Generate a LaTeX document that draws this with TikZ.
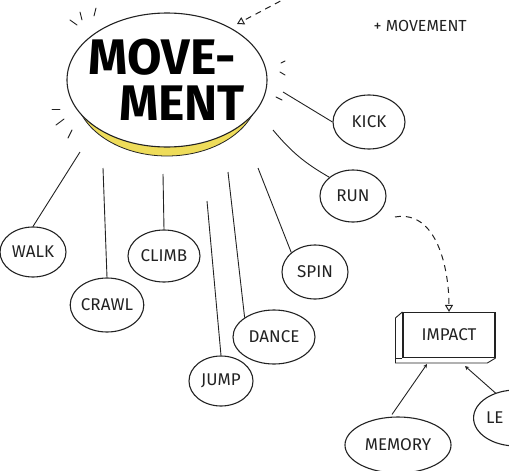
\documentclass[tikz,border=0pt]{standalone}
\usepackage{fontspec}
\setmainfont{Fira Sans}
\usetikzlibrary{arrows.meta,shapes.geometric}
\definecolor{ink}{HTML}{222222}
\definecolor{hl}{HTML}{EEDC5A}
\tikzset{
  ink/.style={draw=ink, line width=1.1pt},
  bub/.style={ink, ellipse, inner sep=0pt, font=\fontsize{17}{17}\selectfont, text=ink},
  link/.style={ink, line width=0.9pt},
  tick/.style={ink, line width=0.9pt, line cap=round},
  dasharrow/.style={ink, line width=1pt, dashed, dash pattern=on 6pt off 5pt, -{Triangle[open, length=7pt, width=8pt]}},
}
\begin{document}
\begin{tikzpicture}[x=1pt,y=-1pt]
\useasboundingbox (0,0) rectangle (509,471);
\clip (0,0) rectangle (509,471);
% yellow crescent
\fill[hl] (167,90) ellipse [x radius=92pt, y radius=66pt];
\draw[ink, line width=0.8pt] (167,90) ellipse [x radius=92pt, y radius=66pt];
\node[ink, ellipse, fill=white, minimum width=200pt, minimum height=134pt, inner sep=0pt] (move) at (167,80) {};
\node[font=\bfseries\fontsize{50}{50}\selectfont, text=black, align=center] (mtxt) at (162,80) {MOVE-\\[-4pt]\hspace*{40pt}MENT};
% ticks
\draw[tick] (70,20) -- (77,25);
\draw[tick] (80,12) -- (82,20);
\draw[tick] (96,8) -- (94,16);
\draw[tick] (281,63) -- (285,61);
\draw[tick] (280,72) -- (285,75);
\draw[tick] (276,97) -- (282,100);
\draw[tick] (52,109) -- (60,109);
\draw[tick] (56,125) -- (64,119);
\draw[tick] (68,138) -- (72,130);
% top right note
\node[anchor=west, font=\fontsize{16}{16}\selectfont, text=ink] (note) at (370,26) {+ MOVEMENT};
\coordinate (dstart) at (290,-4);
\coordinate (dend) at (237,24);
\draw[dasharrow] (dstart) -- (dend);
% nodes
\node[bub, minimum width=72pt, minimum height=54pt] (kick) at (369,122) {KICK};
\node[bub, minimum width=66pt, minimum height=52pt] (run) at (353,196) {RUN};
\node[bub, minimum width=66pt, minimum height=50pt] (walk) at (33,252) {WALK};
\node[bub, minimum width=70pt, minimum height=54pt] (crawl) at (107,305) {CRAWL};
\node[bub, minimum width=72pt, minimum height=52pt] (climb) at (164,256) {CLIMB};
\node[bub, minimum width=64pt, minimum height=50pt] (jump) at (221,381) {JUMP};
\node[bub, minimum width=82pt, minimum height=54pt] (dance) at (274,337) {DANCE};
\node[bub, minimum width=66pt, minimum height=54pt] (spin) at (315,272) {SPIN};
\node[bub, minimum width=106pt, minimum height=56pt] (memory) at (398,445) {MEMORY};
\node[bub, minimum width=66pt, minimum height=56pt, text width=60pt, align=left] (le) at (516,418) {LE};
\node[ink, rectangle, minimum width=92pt, minimum height=45pt, font=\fontsize{17}{17}\selectfont, text=ink] (impact) at (449,335) {IMPACT};
\draw[ink, line width=0.9pt] (impact.north west) -- ++(-7,6) -- ++(0,45) -- ++(92,0) -- (impact.south east);
\draw[ink, line width=0.9pt] (impact.south west) -- ++(-7,0);
% connectors
\coordinate (c1) at (283,92);
\coordinate (c2) at (273,130);
\coordinate (c3) at (80,152);
\coordinate (c4) at (103,168);
\coordinate (c5) at (163,174);
\coordinate (c6) at (207,201);
\coordinate (c7) at (228,172);
\coordinate (c8) at (258,168);
\draw[link] (c1) -- (kick.west);
\draw[link] (c2) to[bend right=10] (run.north west);
\draw[link] (c3) -- (walk.north);
\draw[link] (c4) -- (crawl.north);
\draw[link] (c5) -- (climb.north);
\draw[link] (c6) -- (jump.north);
\draw[link] (c7) -- (dance.north west);
\draw[link] (c8) -- (spin.north west);
\coordinate (runout) at (395,217);
\draw[dasharrow] (runout) to[out=10, in=90] (impact.north);
\draw[link, -{Stealth[length=4pt, width=4pt]}] ([xshift=-6pt, yshift=2pt]memory.north) -- ([xshift=-22pt, yshift=-6pt]impact.south);
\draw[link, -{Stealth[length=4pt, width=4pt]}] ([xshift=-20pt, yshift=-4pt]le.north) -- ([xshift=16pt, yshift=-8pt]impact.south);
\end{tikzpicture}
\end{document}
